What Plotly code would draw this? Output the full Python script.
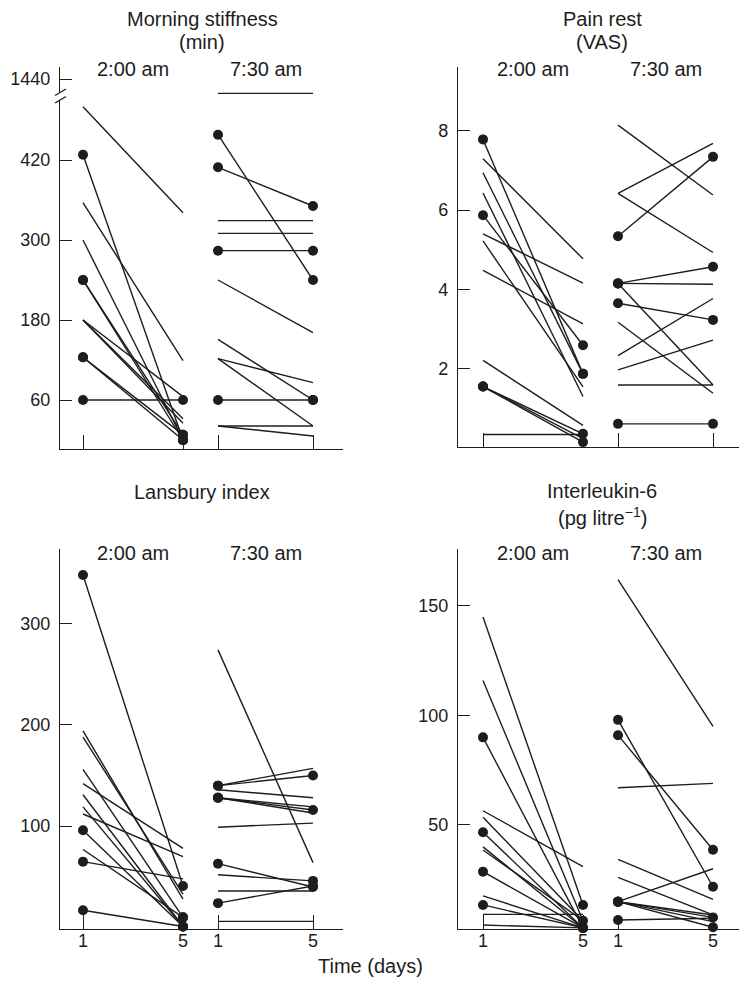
import plotly.graph_objects as go

# ---------------- data ----------------
DAY_POS = [1, 5, 6.4, 10.2]          # day 1 / day 5 for the 2:00 am and 7:30 am groups
DAY_LABELS = ["1", "5", "1", "5"]
GROUPS = ["2:00 am", "7:30 am"]

# Morning stiffness (min)
MS_A_D1 = [500, 428, 356, 300, 240, 240, 180, 180, 180, 124, 124, 60]
MS_A_D5 = [341, 0, 119, 0, 8, 0, 65, 32, 25, 0, 8, 60]
MS_A_F1 = [0, 1, 0, 0, 1, 1, 0, 0, 0, 1, 1, 1]
MS_A_F5 = [0, 1, 0, 1, 1, 1, 0, 0, 0, 1, 1, 1]
MS_B_D1 = [520, 458, 409, 329, 310, 284, 240, 151, 122, 122, 60, 21, 21]
MS_B_D5 = [520, 240, 351, 329, 310, 284, 161, 60, 86, 21, 60, 21, 6]
MS_B_F1 = [0, 1, 1, 0, 0, 1, 0, 0, 0, 0, 1, 0, 0]
MS_B_F5 = [0, 1, 1, 0, 0, 1, 0, 1, 0, 0, 1, 0, 0]
MS_TICKS = [60, 180, 300, 420]
MS_TOP_TICK = [1440]

# Pain rest (VAS)
PR_A_D1 = [7.78, 7.29, 6.94, 6.43, 5.87, 5.40, 5.22, 4.48, 2.21, 1.55, 1.55, 1.55, 0.34]
PR_A_D5 = [1.87, 4.77, 1.87, 1.30, 2.59, 4.16, 1.54, 3.13, 0.57, 0.36, 0.24, 0.15, 0.34]
PR_A_F1 = [1, 0, 0, 0, 1, 0, 0, 0, 0, 1, 1, 1, 0]
PR_A_F5 = [1, 0, 1, 0, 1, 0, 0, 0, 0, 1, 0, 1, 0]
PR_B_D1 = [8.14, 6.42, 6.42, 5.34, 4.15, 4.15, 4.15, 3.65, 3.17, 2.33, 1.97, 1.59, 0.61]
PR_B_D5 = [6.38, 7.68, 4.93, 7.34, 4.57, 4.13, 1.59, 3.23, 1.38, 3.77, 2.72, 1.59, 0.61]
PR_B_F1 = [0, 0, 0, 1, 1, 1, 1, 1, 0, 0, 0, 0, 1]
PR_B_F5 = [0, 0, 0, 1, 1, 0, 0, 1, 0, 0, 0, 0, 1]
PR_TICKS = [2, 4, 6, 8]

# Lansbury index
LI_A_D1 = [348, 194, 188, 156, 142, 131, 119, 112, 96, 77, 65, 17]
LI_A_D5 = [41, 28, 33, 10, 78, 1, 1, 70, 1, 10, 48, 1]
LI_A_F1 = [1, 0, 0, 0, 0, 0, 0, 0, 1, 0, 1, 1]
LI_A_F5 = [1, 0, 0, 1, 0, 1, 1, 0, 1, 1, 0, 1]
LI_B_D1 = [274, 140, 140, 136, 128, 128, 128, 99, 63, 52, 36, 24, 6]
LI_B_D5 = [64, 157, 150, 128, 119, 116, 113, 103, 40, 46, 36, 41, 6]
LI_B_F1 = [0, 1, 1, 0, 1, 1, 1, 0, 1, 0, 0, 1, 0]
LI_B_F5 = [0, 0, 1, 0, 0, 1, 0, 0, 1, 1, 0, 1, 0]
LI_TICKS = [100, 200, 300]

# Interleukin-6 (pg/litre)
IL_A_D1 = [145, 116, 90, 56.5, 53.5, 46.7, 40, 38.6, 28.7, 17.6, 13.5, 9.2, 4.3]
IL_A_D5 = [13.5, 6.3, 3, 31, 6.3, 3, 3, 6.3, 3, 3, 3, 9.2, 3]
IL_A_F1 = [0, 0, 1, 0, 0, 1, 0, 0, 1, 0, 1, 0, 0]
IL_A_F5 = [1, 1, 1, 0, 0, 1, 0, 0, 1, 0, 1, 0, 0]
IL_B_D1 = [162, 98, 91, 67, 34.3, 26.1, 15, 15, 15, 15, 15, 6.6]
IL_B_D5 = [95, 21.8, 38.7, 69, 16, 9, 30, 7.8, 5.9, 3.3, 8.9, 7.4]
IL_B_F1 = [0, 1, 1, 0, 0, 0, 1, 1, 1, 1, 1, 1]
IL_B_F5 = [0, 1, 1, 0, 0, 0, 0, 1, 0, 1, 0, 0]
IL_TICKS = [50, 100, 150]

# ---------------- figure ----------------
W, H = 739, 986
INK = "#1d1d1b"
FONT = "Liberation Sans, Arial, Helvetica, sans-serif"

def px(x):
    return x / W

def py(y):
    return 1 - y / H

fig = go.Figure()

def add_group(xa, ya, d1, d5, f1, f5, g):
    x0, x1 = DAY_POS[2 * g], DAY_POS[2 * g + 1]
    xs, ys = [], []
    for a, b in zip(d1, d5):
        xs += [x0, x1, None]
        ys += [a, b, None]
    fig.add_trace(go.Scatter(x=xs, y=ys, mode="lines", xaxis=xa, yaxis=ya,
                             line=dict(color=INK, width=1.4),
                             showlegend=False, hoverinfo="skip"))
    mx = [x0 for f in f1 if f] + [x1 for f in f5 if f]
    my = [a for a, f in zip(d1, f1) if f] + [b for b, f in zip(d5, f5) if f]
    fig.add_trace(go.Scatter(x=mx, y=my, mode="markers", xaxis=xa, yaxis=ya,
                             marker=dict(color=INK, size=10, line=dict(width=0)),
                             cliponaxis=False, showlegend=False, hoverinfo="skip"))

panels = [
    ("x", "y", MS_A_D1, MS_A_D5, MS_A_F1, MS_A_F5, MS_B_D1, MS_B_D5, MS_B_F1, MS_B_F5),
    ("x2", "y2", PR_A_D1, PR_A_D5, PR_A_F1, PR_A_F5, PR_B_D1, PR_B_D5, PR_B_F1, PR_B_F5),
    ("x3", "y3", LI_A_D1, LI_A_D5, LI_A_F1, LI_A_F5, LI_B_D1, LI_B_D5, LI_B_F1, LI_B_F5),
    ("x4", "y4", IL_A_D1, IL_A_D5, IL_A_F1, IL_A_F5, IL_B_D1, IL_B_D5, IL_B_F1, IL_B_F5),
]
for xa, ya, a1, a5, af1, af5, b1, b5, bf1, bf5 in panels:
    add_group(xa, ya, a1, a5, af1, af5, 0)
    add_group(xa, ya, b1, b5, bf1, bf5, 1)

# trace on the small upper (broken) segment of the stiffness axis, so it is drawn
fig.add_trace(go.Scatter(x=[None], y=[None], xaxis="x", yaxis="y5", mode="lines",
                         showlegend=False, hoverinfo="skip"))

tickfont = dict(family=FONT, size=18, color=INK)

def xax(dom, rng, labels):
    return dict(domain=dom, range=rng, tickvals=DAY_POS, ticktext=DAY_LABELS,
                showticklabels=labels, ticks="inside", ticklen=14, tickwidth=1.3,
                tickcolor=INK, showline=True, linecolor=INK, linewidth=1.4,
                showgrid=False, zeroline=False, tickfont=tickfont,
                ticklabelstandoff=-5, fixedrange=True)

def yax(dom, rng, tv, anchor):
    return dict(domain=dom, range=rng, tickvals=tv, ticks="inside", ticklen=12,
                tickwidth=1.3, tickcolor=INK, showline=True, linecolor=INK,
                linewidth=1.4, showgrid=False, zeroline=False, tickfont=tickfont,
                anchor=anchor, ticklabelstandoff=5, fixedrange=True)

LX = [px(60), px(343)]
RX = [px(458), 1.0]
fig.update_layout(
    width=W, height=H, margin=dict(l=0, r=0, t=0, b=0), autosize=False,
    paper_bgcolor="white", plot_bgcolor="white",
    xaxis=xax(LX, [0.08, 11.4], False) | dict(anchor="y"),
    xaxis2=xax(RX, [0.0, 11.24], False) | dict(anchor="y2"),
    xaxis3=xax(LX, [0.08, 11.4], True) | dict(anchor="y3"),
    xaxis4=xax(RX, [0.0, 11.24], True) | dict(anchor="y4"),
    yaxis=yax([py(449), py(67)], [-13.5, 559.5], MS_TICKS, "x"),
    yaxis2=yax([py(446.7), py(67)], [0.034, 9.605], PR_TICKS, "x2"),
    yaxis3=yax([py(929.3), py(549)], [-1.8, 373.6], LI_TICKS, "x3"),
    yaxis4=yax([py(929.3), py(549)], [2.37, 176.0], IL_TICKS, "x4"),
    yaxis5=yax([py(88), py(67)], [1431, 1452], MS_TOP_TICK, "x"),
)

# broken-axis marks on the stiffness axis
shapes = [
    dict(type="rect", xref="paper", yref="paper", x0=px(57), x1=px(63.5),
         y0=py(99.5), y1=py(92.5), fillcolor="white", line=dict(width=0), layer="above"),
    dict(type="line", xref="paper", yref="paper", x0=px(55), y0=py(95.5), x1=px(66), y1=py(89),
         line=dict(color=INK, width=1.3), layer="above"),
    dict(type="line", xref="paper", yref="paper", x0=px(55), y0=py(103), x1=px(66), y1=py(96.5),
         line=dict(color=INK, width=1.3), layer="above"),
]
fig.update_layout(shapes=shapes)

ann = []
def text(x, y, s, size=20):
    ann.append(dict(x=x, y=y, xref="paper", yref="paper", text=s, showarrow=False,
                    xanchor="center", yanchor="middle",
                    font=dict(family=FONT, size=size, color=INK)))

text(px(202), py(19), "Morning stiffness")
text(px(202), py(42), "(min)")
text(px(602), py(19), "Pain rest")
text(px(602), py(42), "(VAS)")
text(px(202), py(492), "Lansbury index")
text(px(602), py(491), "Interleukin-6")
text(px(602), py(516), "(pg litre<sup>−1</sup>)")
text(px(370), py(966), "Time (days)", 20)

for xa, ytop in [("x", 69), ("x2", 69), ("x3", 553), ("x4", 553)]:
    for g, lab in enumerate(GROUPS):
        mid = (DAY_POS[2 * g] + DAY_POS[2 * g + 1]) / 2
        ann.append(dict(x=mid, y=py(ytop), xref=xa, yref="paper", text=lab,
                        showarrow=False, xanchor="center", yanchor="middle",
                        font=dict(family=FONT, size=20, color=INK)))

fig.update_layout(annotations=ann)
fig.write_html("out.html", config={"displayModeBar": False},
               post_script="document.body.style.margin='0px';document.body.style.padding='0px';document.body.style.overflow='hidden';")
